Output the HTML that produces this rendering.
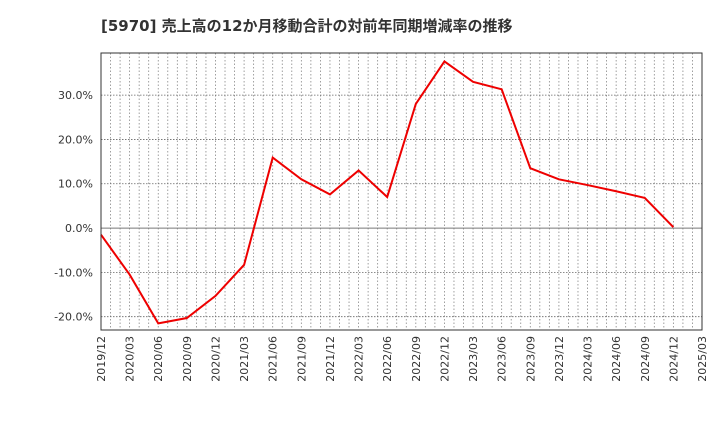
<!DOCTYPE html>
<html><head><meta charset="utf-8"><style>
body{margin:0;background:#fff;font-family:"DejaVu Sans","Noto Sans CJK JP",sans-serif;}
</style></head><body>
<svg width="720" height="440" xmlns="http://www.w3.org/2000/svg">
<text x="101" y="31" font-size="15" font-weight="bold" fill="#333" font-family="DejaVu Sans, Noto Sans CJK JP, sans-serif">[5970]  売上高の12か月移動合計の対前年同期増減率の推移</text>
<g id="grid"></g>
<g id="axes"></g>
<polyline id="line" fill="none" stroke="#ee0000" stroke-width="2"/>
<rect x="101" y="53" width="601" height="277" fill="none" stroke="#333" stroke-width="1"/>
</svg>
<script>
const categories=["2019/12","2020/03","2020/06","2020/09","2020/12","2021/03","2021/06","2021/09","2021/12","2022/03","2022/06","2022/09","2022/12","2023/03","2023/06","2023/09","2023/12","2024/03","2024/06","2024/09","2024/12"];
const values=[-1.5,-10.5,-21.5,-20.3,-15.3,-8.3,15.9,11,7.6,13,7,28,37.6,33,31.3,13.5,11,9.7,8.3,6.8,0.2];
const xLabels=["2019/12","2020/03","2020/06","2020/09","2020/12","2021/03","2021/06","2021/09","2021/12","2022/03","2022/06","2022/09","2022/12","2023/03","2023/06","2023/09","2023/12","2024/03","2024/06","2024/09","2024/12","2025/03"];
const yTicks=[-20,-10,0,10,20,30];
const L=101,R=702,T=53,B=330,yMin=-23,yMax=39.5;
const x=i=>L+i*(R-L)/21;
const y=v=>B-(v-yMin)/(yMax-yMin)*(B-T);
const NS="http://www.w3.org/2000/svg";
const grid=document.getElementById('grid'),axes=document.getElementById('axes');
for(let m=1;m<63;m++){const l=document.createElementNS(NS,'line');const xx=L+m*(R-L)/63;
l.setAttribute('x1',xx);l.setAttribute('x2',xx);l.setAttribute('y1',T);l.setAttribute('y2',B);
l.setAttribute('stroke','#888');l.setAttribute('stroke-width','0.8');l.setAttribute('stroke-dasharray','1.5,2');

grid.appendChild(l);}
yTicks.forEach(v=>{const l=document.createElementNS(NS,'line');
l.setAttribute('x1',L);l.setAttribute('x2',R);l.setAttribute('y1',y(v));l.setAttribute('y2',y(v));
l.setAttribute('stroke',v===0?'#777':'#666');l.setAttribute('stroke-width',v===0?'1':'0.8');if(v!==0)l.setAttribute('stroke-dasharray','1.5,1.5');

grid.appendChild(l);
const t=document.createElementNS(NS,'text');t.setAttribute('x',L-8);t.setAttribute('y',y(v)+4);
t.setAttribute('text-anchor','end');t.setAttribute('font-size','11');t.setAttribute('fill','#333');
t.textContent=v.toFixed(1)+'%';

axes.appendChild(t);});
xLabels.forEach((s,i)=>{const t=document.createElementNS(NS,'text');const xx=x(i)+4;
t.setAttribute('x',xx);t.setAttribute('y',336);t.setAttribute('text-anchor','end');
t.setAttribute('transform','rotate(-90 '+xx+' 336)');t.setAttribute('font-size','11');t.setAttribute('fill','#333');
t.textContent=s;

axes.appendChild(t);});
document.getElementById('line').setAttribute('points',values.map((v,i)=>x(i)+','+y(v)).join(' '));
</script>
</body></html>
